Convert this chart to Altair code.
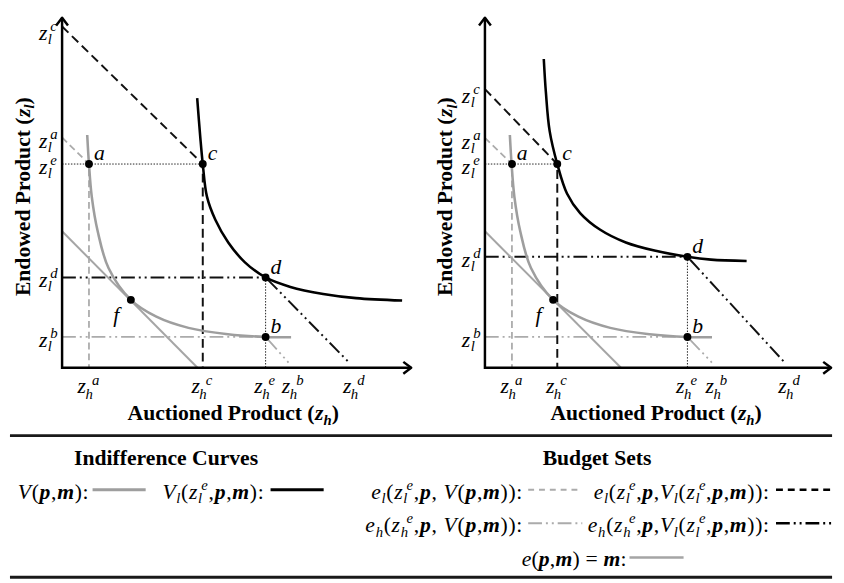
import altair as alt
import pandas as pd

# ---------------- values ----------------
# both panels: axes run 0..10 in "data units"
TICK_NAMES = ['a', 'c', 'e', 'b', 'd']
L_ZH = [0.77, 4.03, 5.83, 6.62, 8.37]      # left  z_h^a, z_h^c, z_h^e, z_h^b, z_h^d
L_ZL = [6.58, 9.75, 5.82, 0.88, 2.58]      # left  z_l^a, z_l^c, z_l^e, z_l^b, z_l^d
R_ZH = [0.78, 2.09, 5.85, 6.70, 8.80]      # right panel
R_ZL = [6.57, 7.96, 5.82, 0.88, 3.17]
F_POINT = [1.97, 1.94]                     # tangency point f
M_ZL0 = 3.90                               # e(p,m)=m intercept on z_l axis
L_M_ZH0 = 3.88                             # ... on z_h axis (left / right)
R_M_ZH0 = 3.93

V_ZH = [0.72, 0.77, 0.85, 1.02, 1.33, 1.97, 2.70, 3.62, 4.75, 5.84, 6.56]
V_ZL = [6.65, 5.82, 4.89, 3.90, 2.85, 1.94, 1.46, 1.14, 0.96, 0.88, 0.87]
L_VL_ZH = [3.87, 3.96, 4.03, 4.15, 4.39, 4.76, 5.23, 5.83, 6.54, 7.48, 8.42, 9.74]
L_VL_ZL = [7.70, 6.57, 5.82, 4.89, 4.23, 3.58, 3.02, 2.58, 2.31, 2.11, 1.99, 1.92]
R_VL_ZH = [1.70, 1.76, 1.87, 2.09, 2.37, 2.75, 3.32, 4.07, 4.93, 5.85, 6.53, 7.56]
R_VL_ZL = [8.82, 7.88, 6.76, 5.82, 4.98, 4.42, 3.95, 3.58, 3.34, 3.17, 3.09, 3.05]

# ---------------- text ----------------
X_TITLE = [('n', 'Auctioned Product (', 'b'), ('n', 'z', 'bi'), ('sub', 'h', 'bi'), ('n', ')', 'b')]
Y_TITLE = [('n', 'Endowed Product (', 'b'), ('n', 'z', 'bi'), ('sub', 'l', 'bi'), ('n', ')', 'b')]
LEG_TITLES = ['Indifference Curves', 'Budget Sets']


def I(t): return ('n', t, 'i')
def B(t): return ('n', t, 'bi')
def R(t): return ('n', t, 'r')


LEG_ENTRIES = [
    [I('V'), R('('), B('p'), R(','), B('m'), R(')'), R(':')],
    [I('V'), ('sub', 'l', 'i'), R('('), I('z'), ('ss', 'l', 'e', 'i'), R(','), B('p'), R(','), B('m'), R(')'), R(':')],
    [I('e'), ('sub', 'l', 'i'), R('('), I('z'), ('ss', 'l', 'e', 'i'), R(','), B('p'), R(', '), I('V'), R('('),
     B('p'), R(','), B('m'), R('))'), R(':')],
    [I('e'), ('sub', 'l', 'i'), R('('), I('z'), ('ss', 'l', 'e', 'i'), R(','), B('p'), R(','), I('V'), ('sub', 'l', 'i'),
     R('('), I('z'), ('ss', 'l', 'e', 'i'), R(','), B('p'), R(','), B('m'), R('))'), R(':')],
    [I('e'), ('sub', 'h', 'i'), R('('), I('z'), ('ss', 'h', 'e', 'i'), R(','), B('p'), R(', '), I('V'), R('('),
     B('p'), R(','), B('m'), R('))'), R(':')],
    [I('e'), ('sub', 'h', 'i'), R('('), I('z'), ('ss', 'h', 'e', 'i'), R(','), B('p'), R(','), I('V'), ('sub', 'l', 'i'),
     R('('), I('z'), ('ss', 'l', 'e', 'i'), R(','), B('p'), R(','), B('m'), R('))'), R(':')],
    [I('e'), R('('), B('p'), R(','), B('m'), R(')'), R(' = '), B('m'), R(':')],
]
LEG_SAMPLE = ['V', 'Vl', 'elV', 'elVl', 'ehV', 'ehVl', 'm']

# ---------------- layout / style ----------------
FONT = 'Liberation Serif'
GRAY_C = '#9e9e9e'
GRAY_L = '#ababab'
GRAY_M = '#a5a5a5'
DD = [14, 4, 2, 4, 2, 4]
PANEL_STYLE = {
    'dot': dict(color='#222222', strokeWidth=1.0, strokeDash=[1.5, 1.5]),
    'elV': dict(color=GRAY_L, strokeWidth=1.8, strokeDash=[7, 4]),
    'ehV': dict(color=GRAY_L, strokeWidth=1.8, strokeDash=DD),
    'elVl': dict(color='#111111', strokeWidth=2.0, strokeDash=[9, 5]),
    'ehVl': dict(color='#111111', strokeWidth=2.0, strokeDash=DD),
    'm': dict(color=GRAY_M, strokeWidth=2.0),
    'V': dict(color=GRAY_C, strokeWidth=2.6),
    'Vl': dict(color='#000000', strokeWidth=2.6),
    'axis': dict(color='#000000', strokeWidth=2.5),
}
SAMPLE_STYLE = {
    'V': dict(color=GRAY_C, strokeWidth=3),
    'Vl': dict(color='black', strokeWidth=3),
    'elV': dict(color=GRAY_L, strokeWidth=2, strokeDash=[6, 5]),
    'elVl': dict(color='black', strokeWidth=2.5, strokeDash=[7, 5]),
    'ehV': dict(color=GRAY_L, strokeWidth=2, strokeDash=DD),
    'ehVl': dict(color='black', strokeWidth=2.5, strokeDash=DD),
    'm': dict(color=GRAY_M, strokeWidth=2.5),
}

WID = {
    'r': {' ': 250, '(': 333, ')': 333, ',': 250, ':': 278, '=': 564},
    'i': {'a': 500, 'b': 500, 'c': 444, 'd': 500, 'e': 444, 'f': 278, 'h': 500, 'l': 278, 'm': 722,
          'p': 500, 'z': 389, 'V': 611, '(': 333, ')': 333, ',': 250, ':': 333, ' ': 250},
    'b': {'A': 722, 'B': 667, 'C': 722, 'E': 667, 'I': 389, 'P': 611, 'S': 556, 'c': 444, 'd': 556,
          'e': 444, 'f': 333, 'g': 500, 'i': 278, 'n': 556, 'o': 500, 'r': 444, 's': 389, 't': 333,
          'u': 556, 'v': 500, 'w': 722, ' ': 250, '(': 333, ')': 333},
    'bi': {'p': 500, 'm': 778, 'z': 389, 'h': 556, 'l': 278, 'V': 667, 'e': 444},
}


def tw(s, st, fs):
    return sum(WID[st].get(ch, 500) for ch in s) * fs / 1000.0


def flow(parts, fs, track=0.0, split=False):
    items = []
    small = fs * 0.68
    pos = 0.0

    def emit(t, st, f, shift, start):
        p = start
        if split:
            for ch in t:
                if ch != ' ':
                    items.append((p, shift, ch, st, f))
                p += tw(ch, st, f) + track
        else:
            items.append((p, shift, t, st, f))
            p += tw(t, st, f) + track * len(t)
        return p

    for part in parts:
        kind = part[0]
        if kind == 'n':
            pos = emit(part[1], part[2], fs, 0.0, pos)
        elif kind == 'sub':
            pos = emit(part[1], part[2], small, 0.22 * fs, pos)
        elif kind == 'ss':
            e1 = emit(part[1], part[3], small, 0.22 * fs, pos)
            sup_off = max(0.10 * fs, 0.8 * tw(part[1], part[3], small))
            e2 = emit(part[2], part[3], small, -0.40 * fs, pos + sup_off)
            pos = max(e1, e2)
    return items, pos


def text_layers(texts, X, Y):
    out = []
    df = pd.DataFrame(texts)
    for (st, rot), sub in df.groupby(['st', 'rot']):
        kw = dict(font=FONT, align='left', baseline='alphabetic', color='black',
                  fontWeight='bold' if 'b' in st else 'normal',
                  fontStyle='italic' if 'i' in st else 'normal')
        if rot:
            kw['angle'] = 270
        out.append(alt.Chart(sub[['x', 'y', 't', 'fs']].reset_index(drop=True)).mark_text(**kw).encode(
            x=X, y=Y, text='t:N', size=alt.Size('fs:Q', scale=None)))
    return out


ZF, SF, PF, TF = 22, 15, 22, 22
LABEL_OFF = {'a': (5, -4), 'c': (5, -4), 'd': (5, -4), 'b': (5, -4), 'f': (-18, 22)}
YLABEL_NUDGE = {'a': 1, 'c': 4, 'e': 0, 'b': 0, 'd': 0}
STOP = 0.15

# legend block, positioned in page pixels (relative to the left panel's axis origin at page (61, 364))
ORIGIN = (61, 364)
RULE_Y = [433, 577]
RULE_X = [8, 844]
TITLE_POS = [(167, 463), (605, 463)]
ENTRY_POS = [(88, 497, 92, 146), (266, 497, 273, 327), (529, 497, 535, 587), (780, 497, 787, 843),
             (529, 531, 535, 590), (780, 531, 787, 843), (635, 566, 638, 693)]
ENTRY_TRACK = [0.7, 0.7, 0.7, 0.7, 0.7, 0.7, 0.2]
LF = 22


def panel(zh_vals, zl_vals, vl_zh, vl_zl, m_zh0, W, H, with_legend=False):
    kx, ky = W / 10.0, H / 10.0
    zh = dict(zip(TICK_NAMES, zh_vals))
    zl = dict(zip(TICK_NAMES, zl_vals))
    X = alt.X('x:Q', scale=alt.Scale(domain=[0, 10], nice=False, zero=False), axis=None)
    Y = alt.Y('y:Q', scale=alt.Scale(domain=[0, 10], nice=False, zero=False), axis=None)
    layers = []

    def poly(paths, style, interp=None):
        rows = []
        for g, pts in enumerate(paths):
            for i, (x, y) in enumerate(pts):
                rows.append({'g': g, 'i': i, 'x': x, 'y': y})
        kw = dict(strokeCap='butt', strokeJoin='miter', **PANEL_STYLE[style])
        if interp:
            kw['interpolate'] = interp
        return alt.Chart(pd.DataFrame(rows)).mark_line(**kw).encode(
            x=X, y=Y, detail='g:N', order='i:Q')

    def diag_end(zl0, zhint):
        return (zh['e'] + (zhint - zh['e']) * (1 - STOP / zl0), STOP)

    layers.append(poly([[(0, zl['e']), (zh['c'], zl['e'])], [(zh['e'], zl['d']), (zh['e'], 0)]], 'dot'))
    layers.append(poly([[(0, zl['a']), (zh['a'], zl['e']), (zh['a'], 0)]], 'elV'))
    layers.append(poly([[(0, zl['b']), (zh['e'], zl['b']), diag_end(zl['b'], zh['b'])]], 'ehV'))
    layers.append(poly([[(0, zl['c']), (zh['c'], zl['e']), (zh['c'], 0)]], 'elVl'))
    layers.append(poly([[(0, zl['d']), (zh['e'], zl['d']), diag_end(zl['d'], zh['d'])]], 'ehVl'))
    layers.append(poly([[(0, M_ZL0), (m_zh0, 0)]], 'm'))
    layers.append(poly([list(zip(V_ZH, V_ZL))], 'V', interp='catmull-rom'))
    layers.append(poly([list(zip(vl_zh, vl_zl))], 'Vl', interp='catmull-rom'))
    layers.append(poly([[(0, 10), (0, 0), (10, 0)]], 'axis'))

    layers.append(alt.Chart(pd.DataFrame({'x': [0], 'y': [10]})).mark_point(
        shape='M -0.75 1 L 0 0 L 0.75 1', filled=False, color='black', strokeWidth=2.5,
        strokeJoin='round', size=256, opacity=1).encode(x=X, y=Y))
    layers.append(alt.Chart(pd.DataFrame({'x': [10], 'y': [0]})).mark_point(
        shape='M -1 -0.75 L 0 0 L -1 0.75', filled=False, color='black', strokeWidth=2.5,
        strokeJoin='round', size=256, opacity=1).encode(x=X, y=Y))

    pts = {'a': (zh['a'], zl['e']), 'c': (zh['c'], zl['e']), 'd': (zh['e'], zl['d']),
           'b': (zh['e'], zl['b']), 'f': (F_POINT[0], F_POINT[1])}
    pdf = pd.DataFrame([{'n': n, 'x': p[0], 'y': p[1]} for n, p in pts.items()])
    layers.append(alt.Chart(pdf).mark_circle(size=64, color='black', opacity=1).encode(x=X, y=Y))

    texts = []

    def put(right_px, down_px, t, st, fs, rot=False):
        texts.append({'x': right_px / kx, 'y': -down_px / ky, 't': t, 'fs': fs, 'st': st, 'rot': rot})

    for n in TICK_NAMES:
        vx = zh[n] * kx
        put(vx - 3 - tw('z', 'i', ZF), 26, 'z', 'i', ZF)
        put(vx - 3.5, 32, 'h', 'i', SF)
        put(vx + 3, 17, n, 'i', SF)
        vy = -zl[n] * ky + YLABEL_NUDGE[n]
        put(-15 - tw('z', 'i', ZF), vy + 10, 'z', 'i', ZF)
        put(-14.5, vy + 14, 'l', 'i', SF)
        put(-12, vy + 1, n, 'i', SF)

    for n, (x, y) in pts.items():
        dx, dy = LABEL_OFF[n]
        put(x * kx + dx, -y * ky + dy, n, 'i', PF)

    items, T = flow(X_TITLE, TF)
    start = 174 - T / 2
    for off, shift, t, st, f in items:
        put(start + off, 53 + shift, t, st, f)
    items, T = flow(Y_TITLE, TF)
    start = 174 - T / 2
    for off, shift, t, st, f in items:
        put(-33 + shift, -(start + off), t, st, f, rot=True)

    if with_legend:
        ox, oy = ORIGIN
        rules = pd.DataFrame({'x': [(RULE_X[0] - ox) / kx] * 2, 'x2': [(RULE_X[1] - ox) / kx] * 2,
                              'y': [-(ry - oy) / ky for ry in RULE_Y]})
        layers.append(alt.Chart(rules).mark_rule(color='#1a1a1a', strokeWidth=3).encode(
            x=X, x2='x2:Q', y=Y))
        for (end, base, s0, s1), key in zip(ENTRY_POS, LEG_SAMPLE):
            df = pd.DataFrame({'x': [(s0 - ox) / kx], 'x2': [(s1 - ox) / kx], 'y': [-(base - 9 - oy) / ky]})
            layers.append(alt.Chart(df).mark_rule(strokeCap='butt', **SAMPLE_STYLE[key]).encode(
                x=X, x2='x2:Q', y=Y))
        for title, (cx, by) in zip(LEG_TITLES, TITLE_POS):
            put(cx - tw(title, 'b', TF) / 2 - ox, by - oy, title, 'b', TF)
        for parts, (end, base, s0, s1), trk in zip(LEG_ENTRIES, ENTRY_POS, ENTRY_TRACK):
            items, T = flow(parts, LF, track=trk, split=True)
            T -= trk
            start = end - T
            for off, shift, t, st, f in items:
                put(start + off - ox, base + shift - oy, t, st, f)

    layers += text_layers(texts, X, Y)
    return alt.layer(*layers).properties(width=W, height=H)


left = panel(L_ZH, L_ZL, L_VL_ZH, L_VL_ZL, L_M_ZH0, 355, 356, with_legend=True)
right = panel(R_ZH, R_ZL, R_VL_ZH, R_VL_ZL, R_M_ZH0, 352, 356)
chart = alt.hconcat(left, right, spacing=75, bounds='flush').properties(
    padding=0).configure_view(strokeWidth=0)
chart.save('out.html', embed_options={'renderer': 'svg', 'actions': False})
